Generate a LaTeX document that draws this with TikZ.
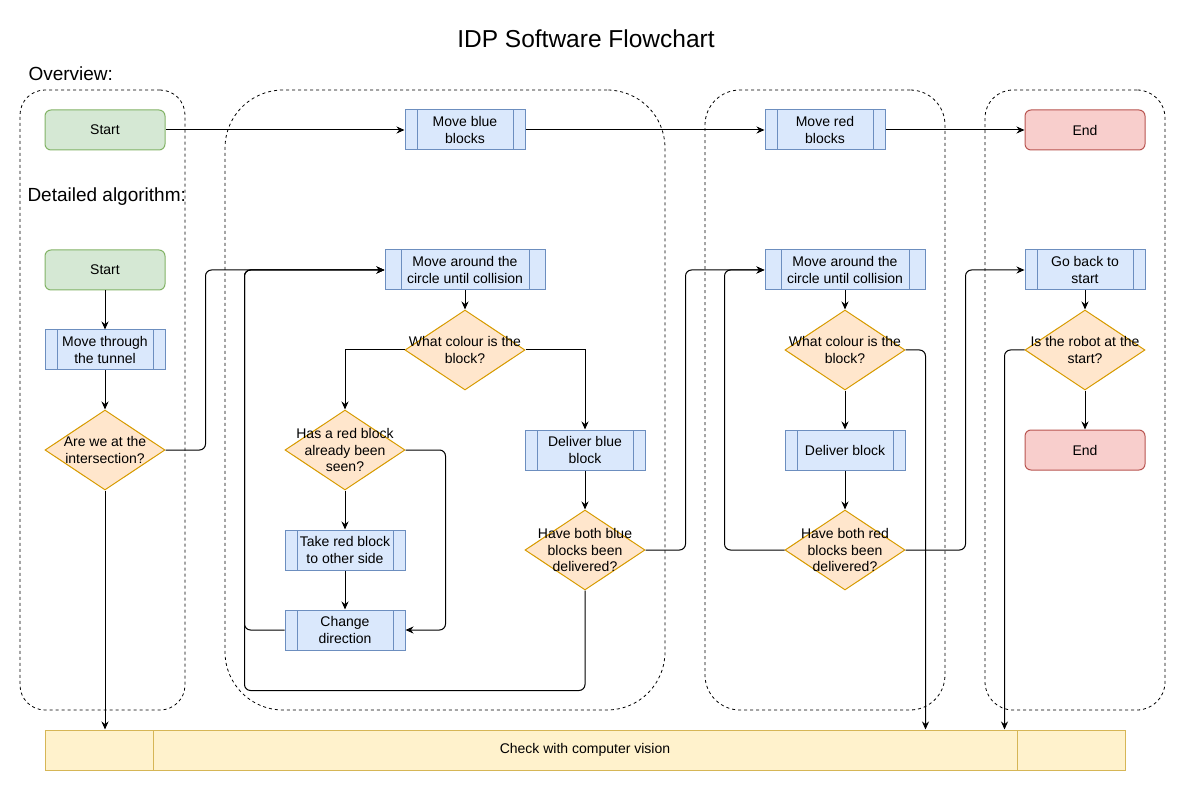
\documentclass[tikz,border=0pt]{standalone}
\usepackage{fontspec}
\setmainfont{Liberation Sans}
\usetikzlibrary{arrows.meta,shapes.geometric,calc}
\definecolor{greenF}{HTML}{D5E8D4}\definecolor{greenS}{HTML}{82B366}
\definecolor{blueF}{HTML}{DAE8FC}\definecolor{blueS}{HTML}{6C8EBF}
\definecolor{orF}{HTML}{FFE6CC}\definecolor{orS}{HTML}{D79B00}
\definecolor{redF}{HTML}{F8CECC}\definecolor{redS}{HTML}{B85450}
\definecolor{yelF}{HTML}{FFF2CC}\definecolor{yelS}{HTML}{D6B656}
\begin{document}
\begin{tikzpicture}[x=1pt,y=-1pt,line width=1pt,
 font=\fontsize{14pt}{16.5pt}\selectfont,
 txt/.style={align=center, inner sep=0pt},
 term/.style={rectangle, rounded corners=6pt, minimum width=120pt, minimum height=40pt, inner sep=0pt, align=center},
 startbox/.style={term, draw=greenS, fill=greenF},
 endbox/.style={term, draw=redS, fill=redF},
 proc/.style={rectangle, draw=blueS, fill=blueF, minimum width=120pt, minimum height=40pt, inner sep=0pt, align=center,
   path picture={\draw[blueS,line width=1pt] ([xshift=#1]path picture bounding box.north west) -- ([xshift=#1]path picture bounding box.south west)
     ([xshift=-#1]path picture bounding box.north east) -- ([xshift=-#1]path picture bounding box.south east);}},
 proc/.default=12pt,
 cvbox/.style={rectangle, draw=yelS, fill=yelF, minimum width=1080pt, minimum height=40pt, inner sep=0pt, align=center,
   path picture={\draw[yelS,line width=1pt] ([xshift=108pt]path picture bounding box.north west) -- ([xshift=108pt]path picture bounding box.south west)
     ([xshift=-108pt]path picture bounding box.north east) -- ([xshift=-108pt]path picture bounding box.south east);}},
 dec/.style={diamond, draw=orS, fill=orF, minimum width=120pt, minimum height=80pt, inner sep=0pt},
 cont/.style={draw=black, dash pattern=on 3pt off 3pt, line width=0.8pt, minimum height=620pt, inner sep=0pt},
 arr/.style={draw=black, line width=1pt, -{Stealth[length=8pt,width=7pt]}},
 rc/.style={rounded corners=6pt}]
\useasboundingbox (0,0) rectangle (1186,791);

% containers
\node[cont, minimum width=165pt, rounded corners=25pt] (g1) at (102.5,400) {};
\node[cont, minimum width=440pt, rounded corners=58pt] (g2) at (445,400) {};
\node[cont, minimum width=240pt, rounded corners=35pt] (g3) at (825,400) {};
\node[cont, minimum width=180pt, rounded corners=28pt] (g4) at (1075,400) {};

% headings
\node[anchor=base, font=\fontsize{24.5pt}{28pt}\selectfont, inner sep=0pt] (title) at (586,47.5) {IDP Software Flowchart};
\node[anchor=base west, font=\fontsize{19pt}{22pt}\selectfont, inner sep=0pt] (ov) at (28,81) {Overview:};
\node[anchor=base west, font=\fontsize{19pt}{22pt}\selectfont, inner sep=0pt] (det) at (27,201.5) {Detailed algorithm:};

% overview row
\node[startbox] (ovStart) at (105,130) {Start};
\node[proc] (ovBlue) at (465,130) {Move blue\\blocks};
\node[proc] (ovRed) at (825,130) {Move red\\blocks};
\node[endbox] (ovEnd) at (1085,130) {End};

% detailed column 1
\node[startbox] (dStart) at (105,270) {Start};
\node[proc] (tunnel) at (105,350) {Move through\\the tunnel};
\node[dec, label={[txt]center:Are we at the\\intersection?}] (inter) at (105,450) {};

% column 2
\node[proc=16pt, minimum width=160pt] (circ1) at (465,270) {Move around the\\circle until collision};
\node[dec, label={[txt]center:What colour is the\\block?}] (col1) at (465,350) {};
\node[dec, label={[txt]center:Has a red block\\already been\\seen?}] (hasred) at (345,450) {};
\node[proc] (takered) at (345,550) {Take red block\\to other side};
\node[proc] (change) at (345,630) {Change\\direction};
\node[proc] (delblue) at (585,450) {Deliver blue\\block};
\node[dec, label={[txt]center:Have both blue\\blocks been\\delivered?}] (both1) at (585,550) {};

% column 3
\node[proc=16pt, minimum width=160pt] (circ2) at (845,270) {Move around the\\circle until collision};
\node[dec, label={[txt]center:What colour is the\\block?}] (col2) at (845,350) {};
\node[proc] (delblock) at (845,450) {Deliver block};
\node[dec, label={[txt]center:Have both red\\blocks been\\delivered?}] (both2) at (845,550) {};

% column 4
\node[proc] (goback) at (1085,270) {Go back to\\start};
\node[dec, label={[txt]center:Is the robot at the\\start?}] (robot) at (1085,350) {};
\node[endbox] (dEnd) at (1085,450) {End};

% bottom
\node[cvbox] (cv) at (585,750) {Check with computer vision};

% connectors
\draw[arr] (ovStart) -- (ovBlue);
\draw[arr] (ovBlue) -- (ovRed);
\draw[arr] (ovRed) -- (ovEnd);

\draw[arr] (dStart) -- (tunnel);
\draw[arr] (tunnel) -- (inter);
\draw[arr, rc] (inter.east) -- ++(40,0) |- (circ1.west);
\draw[arr] (inter.south) -- (inter.south |- cv.north);

\draw[arr] (circ1) -- (col1);
\draw[arr] (col1.west) -| (hasred.north);
\draw[arr] (col1.east) -| (delblue.north);
\draw[arr] (hasred) -- (takered);
\draw[arr] (takered) -- (change);
\draw[arr, rc] (hasred.east) -- ++(40,0) |- (change.east);
\coordinate (lp) at ($(change.west)+(-40,0)$);
\draw[arr, rc] (change.west) -- (lp) |- (circ1.west);
\draw[arr] (delblue) -- (both1);
\draw[arr, rc] (both1.south) -- ++(0,100) -| (lp) |- (circ1.west);
\draw[arr, rc] (both1.east) -- ++(40,0) |- (circ2.west);

\draw[arr] (circ2) -- (col2);
\draw[arr] (col2) -- (delblock);
\draw[arr] (delblock) -- (both2);
\draw[arr, rc] (col2.east) -| (circ2.east |- cv.north);
\draw[arr, rc] (both2.west) -- ++(-60,0) |- (circ2.west);
\draw[arr, rc] (both2.east) -- ++(60,0) |- (goback.west);

\draw[arr] (goback) -- (robot);
\draw[arr] (robot) -- (dEnd);
\coordinate (rw) at ($(robot.west)+(-20,0)$);
\draw[arr, rc] (robot.west) -| (rw |- cv.north);
\end{tikzpicture}
\end{document}
